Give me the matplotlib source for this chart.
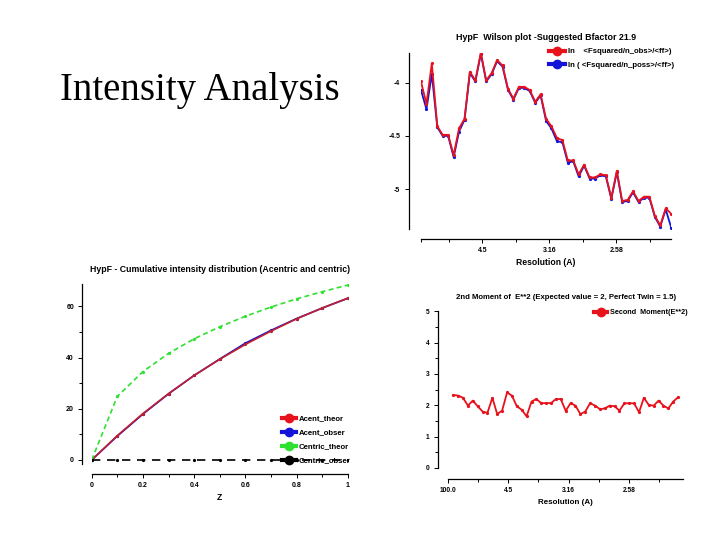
import matplotlib
matplotlib.use("Agg")
import matplotlib.pyplot as plt
from matplotlib.lines import Line2D
from matplotlib.ticker import FixedLocator

# resolution bins, as 1/d^2
res_s = [0.0042, 0.0083, 0.0123, 0.0164, 0.0204, 0.0245, 0.0286, 0.0326,
         0.0367, 0.0407, 0.0448, 0.0489, 0.0529, 0.0570, 0.0610, 0.0651,
         0.0692, 0.0732, 0.0773, 0.0813, 0.0854, 0.0895, 0.0935, 0.0976,
         0.1016, 0.1057, 0.1098, 0.1138, 0.1179, 0.1219, 0.1260, 0.1301,
         0.1341, 0.1382, 0.1422, 0.1463, 0.1504, 0.1544, 0.1585, 0.1625,
         0.1666, 0.1707, 0.1747, 0.1788, 0.1828, 0.1869, 0.1910]
res_ticks = [0.05, 0.10, 0.15]
res_labels = ["4.5", "3.16", "2.58"]

wilson_obs = [-3.99, -4.20, -3.82, -4.41, -4.49, -4.49, -4.68, -4.43, -4.34,
              -3.90, -3.98, -3.72, -3.98, -3.91, -3.79, -3.84, -4.06, -4.15,
              -4.04, -4.04, -4.07, -4.18, -4.11, -4.34, -4.41, -4.52, -4.54,
              -4.73, -4.73, -4.86, -4.77, -4.89, -4.89, -4.86, -4.87, -5.08,
              -4.83, -5.11, -5.10, -5.02, -5.11, -5.07, -5.07, -5.25, -5.34,
              -5.18, -5.23]
wilson_poss = [-4.07, -4.25, -3.92, -4.42, -4.50, -4.50, -4.70, -4.46, -4.35,
               -3.91, -3.99, -3.73, -3.99, -3.92, -3.80, -3.85, -4.07, -4.16,
               -4.05, -4.05, -4.08, -4.19, -4.12, -4.36, -4.43, -4.55, -4.56,
               -4.75, -4.74, -4.88, -4.78, -4.90, -4.90, -4.87, -4.88, -5.09,
               -4.84, -5.12, -5.11, -5.03, -5.12, -5.08, -5.08, -5.26, -5.35,
               -5.19, -5.36]

second_moment = [2.33, 2.31, 2.24, 1.99, 2.15, 1.97, 1.80, 1.76, 2.24, 1.72,
                 1.83, 2.41, 2.31, 1.97, 1.86, 1.65, 2.12, 2.20, 2.07, 2.07,
                 2.07, 2.20, 2.20, 1.82, 2.07, 1.99, 1.72, 1.80, 2.07, 1.99,
                 1.88, 1.90, 1.99, 1.97, 1.83, 2.06, 2.07, 2.06, 1.78, 2.24,
                 2.01, 1.99, 2.15, 1.99, 1.90, 2.12, 2.26]

z = [0, 0.1, 0.2, 0.3, 0.4, 0.5, 0.6, 0.7, 0.8, 0.9, 1.0]
acent_theor = [0, 9.5, 18.1, 25.9, 33.0, 39.3, 45.1, 50.3, 55.1, 59.3, 63.2]
acent_obser = [0, 9.3, 17.9, 25.8, 33.0, 39.4, 45.6, 50.6, 55.2, 59.3, 63.1]
centric_theor = [0, 24.8, 34.5, 41.6, 47.3, 52.0, 56.1, 59.7, 62.9, 65.7, 68.3]
centric_obser = [0, 0, 0, 0, 0, 0, 0, 0, 0, 0, 0]

RED = "#e8121c"
BLUE = "#1414d8"
GREEN = "#30e030"
FONT = "Liberation Sans"
W, H = 720, 540


def px_axes(fig, left, top, right, bottom):
    return fig.add_axes([left / W, 1 - bottom / H, (right - left) / W, (bottom - top) / H])


def style(ax, left_off, bottom_off, fs=5):
    ax.spines["top"].set_visible(False)
    ax.spines["right"].set_visible(False)
    ax.spines["left"].set_position(("outward", left_off))
    ax.spines["bottom"].set_position(("outward", bottom_off))
    for s in ("left", "bottom"):
        ax.spines[s].set_linewidth(0.9)
    ax.tick_params(which="both", direction="out", width=0.7, labelsize=fs, pad=3)
    ax.tick_params(which="major", length=3)
    ax.tick_params(which="minor", length=2)
    for lab in ax.get_xticklabels() + ax.get_yticklabels():
        lab.set_fontfamily(FONT)
        lab.set_fontweight("bold")


def leg_handle(color):
    return Line2D([], [], color=color, lw=3, marker="o", markersize=6)


fig = plt.figure(figsize=(7.2, 5.4), dpi=100)
fig.text(60 / W, 1 - 100 / H, "Intensity Analysis", family="Liberation Serif",
         fontsize=28, va="baseline", ha="left")

# Wilson plot
ax1 = px_axes(fig, 420.7, 52.7, 671.2, 229.3)
ax1.plot(res_s, wilson_poss, color=BLUE, lw=1.3, marker="o", markersize=1.3)
ax1.plot(res_s, wilson_obs, color=RED, lw=1.3, marker="o", markersize=1.3)
ax1.set_xlim(0.004, 0.191)
ax1.set_ylim(-5.376, -3.72)
ax1.set_yticks([-5, -4.5, -4])
ax1.set_yticklabels(["-5", "-4.5", "-4"])
ax1.set_xticks(res_ticks)
ax1.set_xticklabels(res_labels)
ax1.xaxis.set_minor_locator(FixedLocator([0.0042, 0.025, 0.075, 0.125, 0.175]))
style(ax1, 8.7, 6.7)
ax1.set_title("HypF  Wilson plot -Suggested Bfactor 21.9", fontsize=6.4,
              family=FONT, fontweight="bold", pad=9)
ax1.set_xlabel("Resolution (A)", fontsize=6.2, family=FONT, fontweight="bold", labelpad=3)
ax1.legend([leg_handle(RED), leg_handle(BLUE)],
           ["ln    <Fsquared/n_obs>/<ff>)", "ln ( <Fsquared/n_poss>/<ff>)"],
           loc="upper left", bbox_to_anchor=(549 / W, 1 - 48 / H),
           bbox_transform=fig.transFigure, frameon=False,
           prop={"family": FONT, "weight": "bold", "size": 5.6},
           handlelength=2.0, handletextpad=0.5, labelspacing=0.75,
           borderpad=0, borderaxespad=0)

# cumulative intensity distribution
ax2 = px_axes(fig, 91.7, 284.3, 347.7, 463.8)
ax2.plot(z, acent_obser, color=BLUE, lw=1.2, marker="o", markersize=1.3)
ax2.plot(z, acent_theor, color="#c0202c", lw=1.2, marker="o", markersize=1.3)
ax2.plot(z, centric_theor, color=GREEN, lw=1.2, ls=(0, (3, 2)), marker="o", markersize=1.3)
ax2.plot(z, centric_obser, color="black", lw=1.2, ls=(0, (5, 4)), marker="o", markersize=1.3)
ax2.set_xlim(0, 1)
ax2.set_ylim(-1.5, 68.6)
ax2.set_xticks(z[::2])
ax2.set_xticklabels(["0", "0.2", "0.4", "0.6", "0.8", "1"])
ax2.xaxis.set_minor_locator(FixedLocator(z[1::2]))
ax2.set_yticks([0, 20, 40, 60])
ax2.yaxis.set_minor_locator(FixedLocator([10, 30, 50]))
style(ax2, 6.7, 7.2)
ax2.set_title("HypF - Cumulative intensity distribution (Acentric and centric)",
              fontsize=6.3, family=FONT, fontweight="bold", pad=9)
ax2.set_xlabel("Z", fontsize=6.2, family=FONT, fontweight="bold", labelpad=3)
ax2.legend([leg_handle(RED), leg_handle(BLUE), leg_handle(GREEN), leg_handle("black")],
           ["Acent_theor", "Acent_obser", "Centric_theor", "Centric_obser"],
           loc="upper left", bbox_to_anchor=(282 / W, 1 - 415 / H),
           bbox_transform=fig.transFigure, frameon=False,
           prop={"family": FONT, "weight": "bold", "size": 5.6},
           handlelength=1.8, handletextpad=0.4, labelspacing=0.85,
           borderpad=0, borderaxespad=0)

# second moment
ax3 = px_axes(fig, 448.3, 311.3, 683.0, 468.0)
ax3.plot(res_s, second_moment, color=RED, lw=1.3, marker="o", markersize=1.3)
ax3.set_xlim(0.0001, 0.195)
ax3.set_ylim(0, 5)
ax3.set_yticks([0, 1, 2, 3, 4, 5])
ax3.yaxis.set_minor_locator(FixedLocator([0.5, 1.5, 2.5, 3.5, 4.5]))
ax3.set_xticks([0.0001] + res_ticks)
ax3.set_xticklabels(["100.0"] + res_labels)
ax3.xaxis.set_minor_locator(FixedLocator([0.025, 0.075, 0.125, 0.175]))
style(ax3, 7.6, 8.0, fs=4.8)
ax3.set_title("2nd Moment of  E**2 (Expected value = 2, Perfect Twin = 1.5)",
              fontsize=5.6, family=FONT, fontweight="bold", pad=9)
ax3.set_xlabel("Resolution (A)", fontsize=5.8, family=FONT, fontweight="bold", labelpad=3)
ax3.legend([leg_handle(RED)], ["Second  Moment(E**2)"],
           loc="upper left", bbox_to_anchor=(594 / W, 1 - 309 / H),
           bbox_transform=fig.transFigure, frameon=False,
           prop={"family": FONT, "weight": "bold", "size": 5.2},
           handlelength=1.8, handletextpad=0.4,
           borderpad=0, borderaxespad=0)

fig.savefig("out.png", dpi=100, facecolor="white")
